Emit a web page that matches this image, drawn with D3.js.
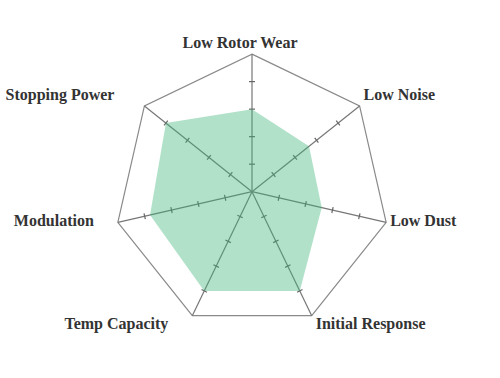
<!DOCTYPE html>
<html>
<head>
<meta charset="utf-8">
<script src="https://cdn.jsdelivr.net/npm/d3@7"></script>
<style>
  body { margin: 0; background: #fff; }
  .label { font-family: "Liberation Serif", "Times New Roman", serif; font-weight: bold; font-size: 16px; fill: #333; }
</style>
</head>
<body>
<div class="chart"></div>
<script>
// brake pad ratings, 0-5 scale
var axesNames = ["Low Rotor Wear", "Low Noise", "Low Dust", "Initial Response", "Temp Capacity", "Modulation", "Stopping Power"];
var ratings = [3, 2.65, 2.6, 4, 4, 3.8, 4];
var tickValues = [1, 2, 3, 4];
var maxRating = 5;

var svgWidth = 500;
var svgHeight = 378;
var cx = 252, cy = 191.7;
var radius = 137.6;

var svg = d3.select(".chart")
  .append("svg")
  .attr("width", svgWidth)
  .attr("height", svgHeight);

var chartGroup = svg.append("g")
  .attr("transform", `translate(${cx}, ${cy})`);

var rScale = d3.scaleLinear().domain([0, maxRating]).range([0, radius]);
var angle = d3.scalePoint().domain(axesNames.concat("_end")).range([0, 2 * Math.PI]);

function point(name, value) {
  var a = angle(name);
  var r = rScale(value);
  return [r * Math.sin(a), -r * Math.cos(a)];
}

// outer heptagon
chartGroup.append("path")
  .attr("d", d3.line()(axesNames.map(n => point(n, maxRating))) + "Z")
  .attr("fill", "none")
  .attr("stroke", "#8a8a8a")
  .attr("stroke-width", 1.2);

// spokes with tick marks
var spokes = chartGroup.selectAll(".spoke")
  .data(axesNames)
  .enter()
  .append("g")
  .attr("class", "spoke")
  .attr("transform", d => `rotate(${angle(d) * 180 / Math.PI})`);

spokes.append("line")
  .attr("x1", 0).attr("y1", 0)
  .attr("x2", 0).attr("y2", -rScale(maxRating))
  .attr("stroke", "#777")
  .attr("stroke-width", 1.2);

spokes.selectAll(".tick")
  .data(tickValues)
  .enter()
  .append("line")
  .attr("x1", -3).attr("x2", 3)
  .attr("y1", d => -rScale(d)).attr("y2", d => -rScale(d))
  .attr("stroke", "#666")
  .attr("stroke-width", 1.2);

// value area, drawn over the spokes
chartGroup.append("path")
  .datum(axesNames.map((n, i) => point(n, ratings[i])))
  .attr("d", d => d3.line()(d) + "Z")
  .attr("fill", "rgb(60, 180, 120)")
  .attr("fill-opacity", 0.4)
  .attr("stroke", "none");

// axis labels
chartGroup.selectAll(".label")
  .data(axesNames)
  .enter()
  .append("text")
  .attr("class", "label")
  .each(function(d) {
    var p = point(d, maxRating);
    var s = Math.sin(angle(d)), c = Math.cos(angle(d));
    var anchor = s > 0.1 ? "start" : (s < -0.1 ? "end" : "middle");
    var dx = s > 0.1 ? 4 : (s < -0.1 ? -24 : -12);
    // upper-left label sits a bit further out
    if (s < -0.1 && c > 0) dx = -30;
    var dy = c > 0 ? -6 : (c < -0.5 ? 13 : 4);
    d3.select(this)
      .attr("x", p[0] + dx)
      .attr("y", p[1] + dy)
      .attr("text-anchor", anchor)
      .text(d);
  });
</script>
</body>
</html>
